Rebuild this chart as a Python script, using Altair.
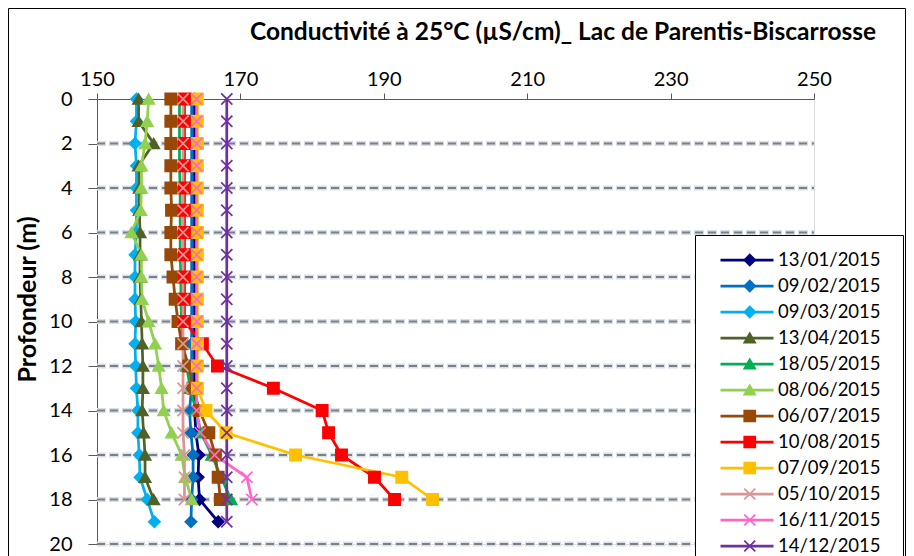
import altair as alt
import pandas as pd

# ---------------- data ----------------
dates = ["13/01/2015", "09/02/2015", "09/03/2015", "13/04/2015", "18/05/2015", "08/06/2015",
         "06/07/2015", "10/08/2015", "07/09/2015", "05/10/2015", "16/11/2015", "14/12/2015"]
colors = ["#000080", "#0070C0", "#00B0F0", "#4F6228", "#00B050", "#92D050",
          "#984807", "#FF0000", "#FFC000", "#DA9694", "#FF66CC", "#7030A0"]
X_PATH = "M-1,-1L1,1M-1,1L1,-1"
shapes = ["diamond"] * 3 + ["triangle-up"] * 3 + ["square"] * 3 + [X_PATH] * 3

depth_0_19 = list(range(20))
depth_0_18 = list(range(19))

c_1301 = [163.6, 163.6, 163.6, 163.6, 163.6, 163.6, 163.6, 163.6, 163.6, 163.6,
          163.6, 163.6, 163.6, 163.6, 163.6, 163.8, 164.2, 164.1, 164.3, 166.9]
c_0902 = [163.2, 163.2, 163.2, 163.2, 163.2, 163.2, 163.2, 163.2, 163.2, 163.2,
          163.2, 163.2, 163.2, 163.2, 162.9, 163.1, 163.4, 163.4, 163.2, 163.1]
c_0903 = [155.5, 155.5, 155.3, 155.5, 155.5, 155.5, 155.5, 155.3, 155.3, 155.3,
          155.4, 155.3, 155.4, 155.5, 155.7, 155.7, 155.9, 156.0, 157.0, 158.0]
c_1304 = [155.8, 155.8, 157.9, 155.8, 155.9, 155.9, 156.0, 156.0, 156.0, 156.1,
          156.2, 156.3, 156.4, 156.4, 156.3, 156.5, 156.7, 156.7, 157.9]
c_1805 = [161.5, 161.5, 161.5, 161.5, 161.6, 161.6, 161.6, 161.6, 161.7, 161.7,
          161.8, 162.0, 162.5, 163.0, 163.8, 164.5, 166.0, 167.3, 168.7]
c_0806 = [157.2, 157.0, 156.7, 156.2, 156.2, 156.1, 154.8, 156.2, 156.2, 156.3,
          157.2, 158.1, 158.6, 159.0, 159.3, 160.4, 161.8, 162.3, 163.2]
c_0607 = [160.3, 160.3, 160.3, 160.3, 160.3, 160.4, 160.3, 160.3, 160.6, 160.9,
          161.3, 161.8, 162.8, 163.4, 164.3, 165.6, 166.5, 166.9, 167.2]
c_1008 = [162.2, 162.2, 162.2, 162.2, 162.2, 162.2, 162.2, 162.2, 162.2, 162.2,
          162.2, 164.7, 166.8, 174.6, 181.4, 182.3, 184.1, 188.7, 191.5]
c_0709 = [164.0, 164.0, 164.0, 164.0, 164.0, 164.0, 164.0, 164.0, 164.0, 164.0,
          164.0, 164.0, 164.0, 164.0, 165.2, 168.0, 177.7, 192.5, 196.8]
c_0510 = [162.0, 162.0, 162.0, 162.0, 162.0, 162.0, 162.0, 162.0, 162.0, 162.0,
          162.0, 162.0, 162.0, 162.0, 162.0, 162.0, 162.2, 162.2, 162.2]
c_1611 = [163.9, 163.9, 163.9, 163.9, 163.9, 163.9, 163.9, 163.9, 163.9, 163.9,
          163.9, 163.9, 163.9, 163.9, 163.9, 164.4, 166.4, 170.9, 171.6]
c_1412 = [168.1, 168.1, 168.1, 168.1, 168.1, 168.1, 168.1, 168.1, 168.1, 168.1,
          168.1, 168.1, 168.1, 168.1, 168.1, 168.1, 168.1, 168.1, 168.1, 168.1]

series = [c_1301, c_0902, c_0903, c_1304, c_1805, c_0806,
          c_0607, c_1008, c_0709, c_0510, c_1611, c_1412]
depths = [depth_0_19, depth_0_19, depth_0_19, depth_0_18, depth_0_18, depth_0_18,
          depth_0_18, depth_0_18, depth_0_18, depth_0_18, depth_0_18, depth_0_19]

x_ticks = [150, 170, 190, 210, 230, 250]
y_ticks = list(range(0, 21, 2))

title_text = "Conductivité à 25°C (µS/cm)_ Lac de Parentis-Biscarrosse"
y_title = "Profondeur (m)"

# ---------------- table ----------------
keys = [d + " " for d in dates]
rows = []
for i, (d, vals, dep) in enumerate(zip(dates, series, depths)):
    for z, v in zip(dep, vals):
        rows.append({"date": d, "key": keys[i], "idx": i, "depth": z, "cond": v})
df = pd.DataFrame(rows)

grid_df = pd.DataFrame({"depth": y_ticks[1:], "cond": x_ticks[0], "cond2": x_ticks[-1]})

FONT = "Lato"
AX = "#595959"

xscale = alt.Scale(domain=[150, 250], nice=False, zero=False)
yscale = alt.Scale(domain=[0, 20], reverse=True, nice=False, zero=False)

x_axis = alt.Axis(orient="top", values=x_ticks, title=None, grid=False,
                  labelFont=FONT, labelFontSize=20, labelColor="black",
                  tickSize=6, tickColor=AX, domainColor=AX, labelPadding=4,
                  labelFlush=False, labelOverlap=False, format="d")
y_axis = alt.Axis(orient="left", values=y_ticks, title=y_title,
                  labelFont=FONT, labelFontSize=20, labelColor="black",
                  tickSize=9, tickColor=AX, domainColor=AX, labelPadding=16,
                  grid=False,
                  titleFont=FONT, titleFontSize=25, titleFontWeight="bold", titleColor="black",
                  titleX=-57, titleY=200, titleAlign="center", titleBaseline="bottom",
                  titleAngle=270, format="d")

X_ENC = alt.X("cond:Q", scale=xscale, axis=x_axis, title=None)
Y_ENC = alt.Y("depth:Q", scale=yscale, axis=y_axis, title=y_title)

# gridlines (halo + dashed core)
grid_halo = alt.Chart(grid_df).mark_rule(color="#d6e0ec", strokeWidth=5,
                                         strokeDash=[10, 3], strokeDashOffset=1).encode(
    x=X_ENC, x2="cond2:Q", y=Y_ENC)
grid_core = alt.Chart(grid_df).mark_rule(color="#7f7f7f", strokeWidth=2,
                                         strokeDash=[8, 5]).encode(
    x=X_ENC, x2="cond2:Q", y=Y_ENC)

base = alt.Chart(df)

lines = base.mark_line(strokeWidth=2.75).encode(
    x=X_ENC,
    y=Y_ENC,
    color=alt.Color("date:N", scale=alt.Scale(domain=dates, range=colors),
                    legend=alt.Legend(orient="none", legendX=598, legendY=136,
                                      title="\u00a0" * 14, titleOrient="right",
                                      titleFontSize=18, titlePadding=10,
                                      symbolType="stroke", symbolSize=2809, symbolStrokeWidth=2.75,
                                      symbolOffset=12, labelOffset=3,
                                      labelFont=FONT, labelFontSize=18.5, labelColor="black",
                                      clipHeight=26, rowPadding=0, padding=12,
                                      fillColor="white", strokeColor="black")),
    order=alt.Order("depth:Q"),
)

pt_legend = alt.Legend(orient="none", legendX=598, legendY=136, title=None,
                       symbolSize=120, symbolStrokeWidth=1.75, symbolOffset=33.5,
                       labelExpr="''", labelFont=FONT, labelFontSize=18.5,
                       clipHeight=26, rowPadding=0, padding=12)

points = base.mark_point(filled=True, size=125, strokeWidth=1.75, opacity=1).encode(
    x=X_ENC,
    y=Y_ENC,
    fill=alt.Fill("key:N", scale=alt.Scale(domain=keys, range=colors), legend=pt_legend),
    stroke=alt.Stroke("key:N", scale=alt.Scale(domain=keys, range=colors), legend=pt_legend),
    shape=alt.Shape("key:N", scale=alt.Scale(domain=keys, range=shapes), legend=pt_legend),
    order=alt.Order("idx:Q"),
)

frame_df = pd.DataFrame({"a": [0]})
frame = alt.layer(
    alt.Chart(frame_df).mark_rule(color="black", strokeWidth=1).encode(
        x=alt.value(-88.5), y=alt.value(-90.5), y2=alt.value(470)),
    alt.Chart(frame_df).mark_rule(color="black", strokeWidth=1).encode(
        x=alt.value(-88.5), x2=alt.value(808.5), y=alt.value(-90.5)),
    alt.Chart(frame_df).mark_rule(color="black", strokeWidth=1).encode(
        x=alt.value(808.5), y=alt.value(-90.5), y2=alt.value(470)),
)

chart = alt.layer(frame, grid_halo, grid_core, lines, points).properties(
    width=717, height=445,
    title=alt.TitleParams(text=title_text, font=FONT, fontSize=24.5, fontWeight="bold",
                          color="black", anchor="start", frame="group", dx=153, offset=-37),
    autosize=alt.AutoSizeParams(type="none"),
    padding={"left": 89, "top": 91, "right": 92, "bottom": 12},
).configure_view(strokeWidth=0, stroke="transparent").configure(background="white")

chart.save("out.html", embed_options={"renderer": "svg", "actions": False})
